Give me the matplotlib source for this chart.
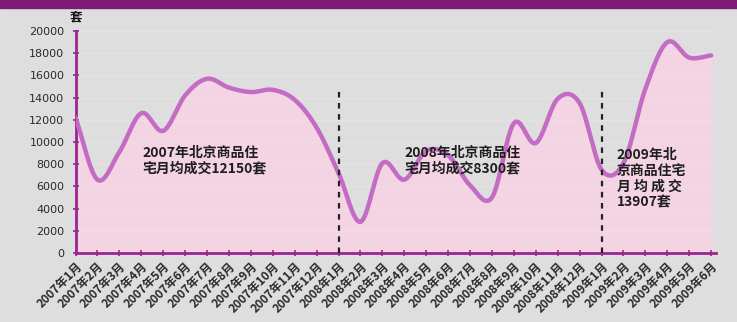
import numpy as np
import matplotlib
matplotlib.use("Agg")
import matplotlib.pyplot as plt
from matplotlib.patches import Rectangle

plt.rcParams['font.family'] = ['Noto Sans CJK SC', 'DejaVu Sans']

# Monthly sales of commercial housing in Beijing (sets)
months = ([f"2007年{m}月" for m in range(1, 13)]
          + [f"2008年{m}月" for m in range(1, 13)]
          + [f"2009年{m}月" for m in range(1, 7)])
sales = [12200, 6600, 9100, 12600, 11000, 14200, 15700, 14900, 14500, 14700, 13800, 11300,
         7200, 2800, 8100, 6600, 9200, 8800, 6100, 5000, 11700, 9900, 13900, 13500,
         7500, 8100, 14800, 19000, 17600, 17800]
yticks = [0, 2000, 4000, 6000, 8000, 10000, 12000, 14000, 16000, 18000, 20000]
year_starts = [12, 24]
notes = ["2007年北京商品住\n宅月均成交12150套",
         "2008年北京商品住\n宅月均成交8300套",
         "2009年北\n京商品住宅\n月 均 成 交\n13907套"]


def smooth(x, y, n=12):
    """Catmull-Rom curve through the monthly points, for drawing only."""
    x = np.asarray(x, float)
    y = np.asarray(y, float)
    px = np.concatenate([[2 * x[0] - x[1]], x, [2 * x[-1] - x[-2]]])
    py = np.concatenate([[2 * y[0] - y[1]], y, [2 * y[-1] - y[-2]]])
    xs, ys = [], []
    t = np.linspace(0, 1, n, endpoint=False)
    for i in range(1, len(px) - 2):
        for arr, out in ((px, xs), (py, ys)):
            p0, p1, p2, p3 = arr[i - 1:i + 3]
            out.extend(0.5 * ((2 * p1) + (-p0 + p2) * t
                              + (2 * p0 - 5 * p1 + 4 * p2 - p3) * t ** 2
                              + (-p0 + 3 * p1 - 3 * p2 + p3) * t ** 3))
    xs.append(x[-1])
    ys.append(y[-1])
    return np.array(xs), np.array(ys)


bg = "#dedede"
purple = "#9b2590"
fig = plt.figure(figsize=(7.37, 3.22), dpi=100, facecolor=bg)
fig.patches.append(Rectangle((0, 0.975), 1, 0.025, transform=fig.transFigure,
                             color="#7d1a78", zorder=0))

ax = fig.add_axes([0.1025, 0.2143, 0.8684, 0.6894])
ax.set_facecolor(bg)
x = np.arange(len(months))
sx, sy = smooth(x, sales)
ax.fill_between(sx, sy, 0, color="#f4d3e3", zorder=1)
for v in yticks[1:]:
    ax.axhline(v, color="#e9e2e6", lw=0.6, zorder=1.5)
ax.plot(sx, sy, color="#c46cc4", lw=3.2, solid_capstyle="round", zorder=3)

for xs_ in year_starts:
    ax.plot([xs_, xs_], [0, 15000], color="#222222", lw=1.6,
            ls=(0, (2.5, 2.5)), zorder=4)

ax.set_xlim(0, 29.2)
ax.set_ylim(0, 20000)
ax.set_yticks(yticks)
ax.set_yticklabels([str(v) for v in yticks], fontsize=8, color="#2a2a2a",
                   family="DejaVu Sans")
ax.set_xticks(x)
ax.set_xticklabels(months, rotation=45, ha="right", va="top",
                   fontsize=8.5, fontweight="bold", color="#2a2a2a",
                   rotation_mode="anchor")
ax.tick_params(axis="x", length=4, width=1.2, color=purple, direction="inout", pad=3)
ax.tick_params(axis="y", length=4, width=1.2, color=purple, direction="inout", pad=6)
for s in ["top", "right"]:
    ax.spines[s].set_visible(False)
for s in ["left", "bottom"]:
    ax.spines[s].set_color(purple)
    ax.spines[s].set_linewidth(2)

note_style = dict(fontsize=10, fontweight="bold", color="#1e1e1e",
                  linespacing=1.15, va="center", ha="left", zorder=5)
ax.text(3.05, 8300, notes[0], **note_style)
ax.text(15.0, 8300, notes[1], **note_style)
ax.text(24.7, 6700, notes[2], **note_style)
ax.text(0, 20700, "套", fontsize=9, fontweight="bold", color="#111111",
        ha="center", va="bottom", clip_on=False)

fig.savefig("out.png", dpi=100, facecolor=bg)
